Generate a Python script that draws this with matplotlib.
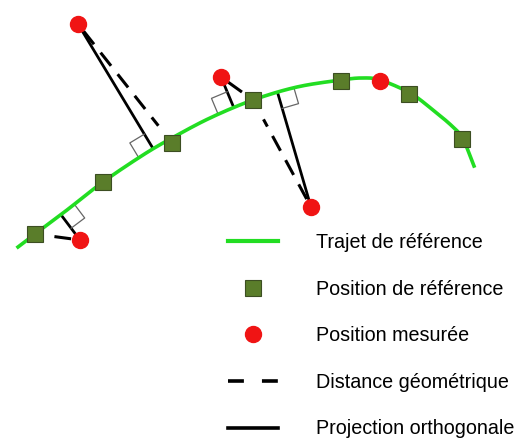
import matplotlib.pyplot as plt
import numpy as np
from matplotlib.lines import Line2D

plt.rcParams['font.family'] = ['Liberation Sans', 'DejaVu Sans']

# Reference trajectory (pixel coordinates, y downwards)
curve_x = [18, 35, 67, 103, 143, 172, 210, 253, 297, 341, 362, 380, 410, 433, 453, 463, 474]
curve_y = [247, 234, 210, 182, 155, 138, 118, 100, 87, 80, 78, 80, 93, 110, 127, 139, 166]

# Reference positions (squares)
ref_x = [35, 103, 172, 253, 341, 409, 462]
ref_y = [234, 182, 143, 100, 81, 94, 139]

# Measured positions (circles)
mes_x = [78, 80, 221, 311, 380]
mes_y = [24, 240, 77, 207, 81]

# measured point -> reference square used for the geometric distance
geo_pairs = [(0, 2), (1, 0), (2, 3), (3, 3)]
# measured points with an orthogonal projection, and side of the right-angle box
proj_idx = [0, 1, 2, 3]
box_side = [-1, 1, -1, 1]

labels = ['Trajet de référence', 'Position de référence', 'Position mesurée',
          'Distance géométrique', 'Projection orthogonale']

green = '#22dd22'
olive = '#5a7d2a'
red = '#f01414'
dash_pat = (5.5, 3.5)


def smooth(xs, ys, n=12):
    # Catmull-Rom pass through the read points
    P = np.column_stack([xs, ys]).astype(float)
    P = np.vstack([P[0] * 2 - P[1], P, P[-1] * 2 - P[-2]])
    out = []
    for i in range(1, len(P) - 2):
        p0, p1, p2, p3 = P[i - 1], P[i], P[i + 1], P[i + 2]
        for t in np.linspace(0, 1, n, endpoint=False):
            out.append(0.5 * (2 * p1 + (-p0 + p2) * t
                              + (2 * p0 - 5 * p1 + 4 * p2 - p3) * t ** 2
                              + (-p0 + 3 * p1 - 3 * p2 + p3) * t ** 3))
    out.append(P[-2])
    return np.array(out)


fig = plt.figure(figsize=(5.26, 4.38), dpi=100)
ax = fig.add_axes([0, 0, 1, 1])
ax.set_xlim(0, 526)
ax.set_ylim(438, 0)
ax.axis('off')

C = smooth(curve_x, curve_y)
cx, cy = C[:, 0], C[:, 1]


def project(px, py):
    best = None
    for i in range(len(cx) - 1):
        a = np.array([cx[i], cy[i]])
        b = np.array([cx[i + 1], cy[i + 1]])
        ab = b - a
        t = np.clip(np.dot([px, py] - a, ab) / np.dot(ab, ab), 0, 1)
        p = a + t * ab
        d = np.hypot(*(p - [px, py]))
        if best is None or d < best[0]:
            best = (d, p, ab / np.hypot(*ab))
    return best[1], best[2]


# geometric distances (dashed)
for m, r in geo_pairs:
    p0 = np.array([mes_x[m], mes_y[m]], float)
    p1 = np.array([ref_x[r], ref_y[r]], float)
    v = p1 - p0
    L = np.hypot(*v)
    u = v / L
    a = p0 + u * 9
    b = p1 - u * min(22, L * 0.25)
    ax.plot([a[0], b[0]], [a[1], b[1]], color='black', lw=2.2,
            dashes=dash_pat, dash_capstyle='butt', zorder=2)

# orthogonal projections (solid) and right-angle boxes
s = 17
for k, m in enumerate(proj_idx):
    foot, tan = project(mes_x[m], mes_y[m])
    ax.plot([foot[0], mes_x[m]], [foot[1], mes_y[m]], color='black',
            lw=2.0, solid_capstyle='butt', zorder=2)
    d = np.array([mes_x[m], mes_y[m]]) - foot
    d = d / np.hypot(*d)
    t = tan if tan[0] * box_side[k] > 0 else -tan
    c = [foot, foot + s * t, foot + s * t + s * d, foot + s * d]
    ax.plot([c[1][0], c[2][0], c[3][0]], [c[1][1], c[2][1], c[3][1]],
            color='#666666', lw=0.9, zorder=2)

ax.plot(cx, cy, color=green, lw=2.6, zorder=3, solid_joinstyle='round')
ax.plot(ref_x, ref_y, ls='none', marker='s', ms=12, color=olive,
        markeredgecolor='#3c4e22', markeredgewidth=0.8, zorder=4)
ax.plot(mes_x, mes_y, ls='none', marker='o', ms=11.5, color=red,
        markeredgecolor=red, zorder=5)

handles = [
    Line2D([], [], color=green, lw=3),
    Line2D([], [], ls='none', marker='s', ms=11, color=olive,
           markeredgecolor='#3c4e22', markeredgewidth=0.8),
    Line2D([], [], ls='none', marker='o', ms=11.5, color=red),
    Line2D([], [], color='black', lw=2.6, dashes=(4.4, 5.0), dash_capstyle='butt'),
    Line2D([], [], color='black', lw=2.6),
]
ax.legend(handles, labels, loc='upper left', bbox_to_anchor=(0.434, 0.468),
          frameon=False, fontsize=14.2, handlelength=2.5, handletextpad=1.95,
          labelspacing=1.4, borderpad=0, borderaxespad=0)

fig.savefig('out.png', dpi=100)
